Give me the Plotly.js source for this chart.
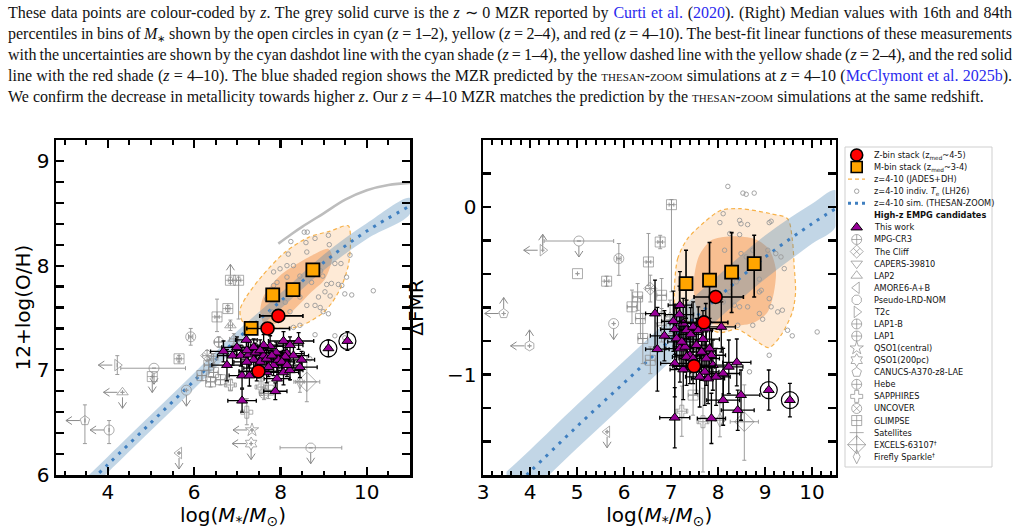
<!DOCTYPE html>
<html><head><meta charset="utf-8">
<script src="https://cdn.plot.ly/plotly-3.0.1.min.js"></script>
<style>
html,body{margin:0;padding:0;background:#fff;}
#wrap{position:relative;width:1025px;height:529px;overflow:hidden;background:#fff;}
#chart{position:absolute;left:0;top:0;width:1025px;height:529px;}
#cap{position:absolute;left:8px;top:2px;width:1004px;font-family:"Liberation Serif","Times New Roman",serif;font-size:16px;color:#111;z-index:5;pointer-events:none;}
#cap .ln{height:21px;line-height:21px;white-space:nowrap;text-align:left;overflow:visible;font-size:16px;}
#cap .lk{color:#2a2aee;}
#cap .it{font-style:italic;}
#cap .sc{font-variant:small-caps;}
#cap .sb{font-size:10px;line-height:0;position:relative;top:3px;}
</style></head>
<body>
<div id="wrap">
<div id="chart"></div>
<div id="cap">
<div class="ln"><span class="in">These data points are colour-coded by <span class="it">z</span>. The grey solid curve is the <span class="it">z</span> ∼ 0 MZR reported by <span class="lk">Curti et al.</span> (<span class="lk">2020</span>). (Right) Median values with 16th and 84th</span></div>
<div class="ln"><span class="in">percentiles in bins of <span class="it">M</span><span class="sb">∗</span> shown by the open circles in cyan (<span class="it">z</span> = 1–2), yellow (<span class="it">z</span> = 2–4), and red (<span class="it">z</span> = 4–10). The best-fit linear functions of these measurements</span></div>
<div class="ln"><span class="in">with the uncertainties are shown by the cyan dashdot line with the cyan shade (<span class="it">z</span> = 1–4), the yellow dashed line with the yellow shade (<span class="it">z</span> = 2–4), and the red solid</span></div>
<div class="ln"><span class="in">line with the red shade (<span class="it">z</span> = 4–10). The blue shaded region shows the MZR predicted by the <span class="sc">thesan-zoom</span> simulations at <span class="it">z</span> = 4–10 (<span class="lk">McClymont et al. 2025b</span>).</span></div>
<div class="ln last"><span class="in">We confirm the decrease in metallicity towards higher <span class="it">z</span>. Our <span class="it">z</span> = 4–10 MZR matches the prediction by the <span class="sc">thesan-zoom</span> simulations at the same redshift.</span></div>
</div>
</div>
<script>
// ================= LEFT PANEL : 12+log(O/H) =================
const zbinX_L = [7.95, 7.70, 7.49];
const zbinY_L = [7.52, 7.40, 6.99];
const zbinExLo_L = [0.43, 0.48, 0.45];
const zbinExHi_L = [0.57, 0.51, 0.45];
const zbinEy_L = [0.03, 0.03, 0.03];

const mbinX_L = [7.32, 7.82, 8.29, 8.75];
const mbinY_L = [7.40, 7.72, 7.77, 7.96];
const mbinEx_L = [0.10, 0.10, 0.10, 0.10];
const mbinEyLo_L = [0.03, 0.03, 0.03, 0.03];
const mbinEyHi_L = [0.03, 0.03, 0.03, 0.03];

const jadesOutX_L = [7.07, 7.22, 7.57, 8.11, 8.65, 9.15, 9.57, 9.62, 9.57, 9.42, 9.20, 8.96, 8.50, 8.20, 7.80, 7.40, 7.15, 7.07];
const jadesOutY_L = [7.59, 7.71, 7.90, 8.13, 8.27, 8.33, 8.38, 8.20, 8.00, 7.81, 7.65, 7.54, 7.43, 7.40, 7.41, 7.42, 7.45, 7.52];
const jadesInX_L = [7.53, 7.60, 7.80, 8.03, 8.65, 9.11, 9.20, 9.03, 8.72, 8.34, 7.95, 7.65];
const jadesInY_L = [7.55, 7.70, 7.82, 7.92, 8.08, 8.16, 8.08, 7.87, 7.75, 7.59, 7.46, 7.43];

const thesanX_L = [3.5, 4, 5, 6, 7, 8, 9, 10, 11];
const thesanMid_L = [5.90, 6.10, 6.50, 6.90, 7.30, 7.66, 8.03, 8.33, 8.57];
const thesanLo_L = [5.825, 6.025, 6.425, 6.825, 7.225, 7.585, 7.955, 8.255, 8.495];
const thesanHi_L = [5.975, 6.175, 6.575, 6.975, 7.375, 7.735, 8.105, 8.405, 8.645];

const curtiX = [7.95, 8.25, 8.5, 9.0, 9.5, 10.0, 10.5, 11.0];
const curtiY = [8.21, 8.30, 8.37, 8.50, 8.63, 8.72, 8.77, 8.79];

const teX_L = [8.24,8.55,8.62,8.59,8.80,9.11,9.13,9.61,9.26,9.40,9.53,8.93,8.98,8.72,9.07,9.18,9.34,9.42,9.03,8.88,9.15,9.49,9.65,8.92,8.99,9.11,8.80,10.15,8.61,8.45,8.30,8.15,7.99,7.92,7.84,7.80,7.68,8.45,8.30,8.15,8.22,8.45,8.30,8.80,8.68,9.26,9.49,8.11,8.18,7.84,8.61];
const teY_L = [8.23,8.32,8.32,8.22,8.26,8.29,8.20,8.10,8.02,8.02,7.89,7.95,7.90,7.84,7.82,7.83,7.82,7.81,7.75,7.70,7.71,7.73,7.72,7.60,7.56,7.54,7.62,7.76,7.62,7.70,7.81,7.89,7.97,7.84,7.81,7.56,7.68,7.90,8.00,8.00,7.56,7.43,7.41,7.34,7.11,7.33,7.31,7.65,8.11,7.94,8.13];

const triX_L = [7.21,6.68,6.89,7.08,7.26,7.42,7.61,7.76,8.07,8.42,7.90,8.15,8.30,8.49,6.76,7.11,7.28,7.38,7.53,7.68,7.84,7.95,8.07,8.22,8.45,7.11,7.88,9.11,9.55,7.61,7.38,7.22,7.68,7.92,8.11,8.22,7.45,6.99,7.80,8.03,8.15,7.22,7.53,7.72];
const triY_L = [7.29,7.18,7.14,7.14,7.15,7.17,7.14,7.23,7.28,7.28,7.17,7.16,7.14,7.10,7.05,6.95,6.95,7.10,7.08,7.11,7.05,7.10,6.98,7.00,7.03,6.71,6.80,7.21,7.28,7.24,7.22,7.08,6.98,6.92,7.13,7.24,7.02,7.22,7.14,7.08,7.05,7.19,7.19,7.03];
const triEx_L = [0.25,0.30,0.35,0.30,0.28,0.30,0.25,0.30,0.35,0.35,0.30,0.40,0.35,0.30,0.35,0.30,0.25,0.30,0.35,0.30,0.30,0.25,0.35,0.30,0.40,0.33,0.27,0.05,0.05,0.30,0.25,0.30,0.28,0.30,0.35,0.30,0.30,0.35,0.25,0.30,0.35,0.28,0.30,0.30];
const triEy_L = [0.08,0.10,0.09,0.10,0.12,0.09,0.08,0.10,0.09,0.08,0.10,0.09,0.12,0.08,0.15,0.12,0.10,0.09,0.11,0.09,0.10,0.08,0.12,0.09,0.10,0.11,0.08,0.08,0.09,0.10,0.08,0.13,0.10,0.14,0.09,0.08,0.12,0.10,0.09,0.10,0.11,0.09,0.10,0.09];

const ringX_L = [9.11, 9.55];
const ringY_L = [7.21, 7.28];

const candX_L = [6.84,7.03,6.78,6.53,5.92,5.65,4.22,5.07,5.03,4.34,5.82,3.47,4.03,5.65,7.34,7.32,8.70,7.22,6.84,6.18,6.38,6.61,6.34,8.61,8.45,6.84,6.30,6.45,7.72,6.45,6.57,6.92,7.55,7.62];
const candY_L = [7.86,7.86,7.59,7.51,7.32,7.11,7.05,7.02,6.94,6.79,6.81,6.52,6.43,6.21,6.43,6.30,6.26,6.60,6.86,6.95,6.89,6.91,7.05,6.89,6.89,7.43,7.14,7.11,6.81,6.98,7.27,7.30,6.84,6.78];
const candSym_L = ['square-cross-open','square-cross-open','square-cross-open','square-cross-open','circle-x-open','square-cross-open','triangle-right-open','circle-open','square-cross-open','triangle-up-open','circle-open','pentagon-open','circle-open','triangle-left-open','star-open','hexagram-open','octagon-open','cross-open','cross-open','square-cross-open','square-cross-open','square-cross-open','square-cross-open','diamond-cross-open','diamond-tall-open','triangle-up-open','diamond-x-open','triangle-down-open','square-cross-open','square-cross-open','circle-cross-open','triangle-up-open','cross-open','circle-cross-open'];
const candExLo_L = [0.05,0.05,0.05,0.05,0.05,0.05,0,0.77,0,0,0,0,0,0,0,0,0.71,0.05,0.10,0.10,0.10,0.10,0.10,0.30,0.10,0.05,0.10,0.10,0.10,0.10,0.10,0.10,0.10,0.10];
const candExHi_L = [0.05,0.05,0.05,0.05,0.05,0.05,0,0.73,0,0,0,0,0,0,0,0,0.72,0.05,0.10,0.10,0.10,0.10,0.10,0.30,0.10,0.05,0.10,0.10,0.10,0.10,0.10,0.10,0.10,0.10];
const candEyLo_L = [0.03,0.37,0.03,0.14,0.08,0.03,0.09,0,0,0,0,0.22,0.13,0,0,0,0,0.12,0.05,0.05,0.05,0.05,0.05,0.19,0.10,0.05,0.05,0.05,0.08,0.05,0.05,0.05,0.08,0.06];
const candEyHi_L = [0.03,0.03,0.03,0.17,0.08,0.03,0.09,0,0,0,0,0.15,0.09,0,0,0,0,0.13,0.05,0.05,0.05,0.05,0.05,0.25,0.10,0.05,0.05,0.05,0.08,0.05,0.05,0.05,0.08,0.06];
const candLim_L = ['U','','','','','','L','D','D','LD','D','L','L','D','L','LD','D','','','','','','','','','','','','','','','','',''];

// ================= RIGHT PANEL : ΔFMR =================
const zbinX_R = [7.95, 7.70, 7.49];
const zbinY_R = [-0.537, -0.689, -0.950];
const zbinExLo_R = [0.46, 0.48, 0.45];
const zbinExHi_R = [0.59, 0.51, 0.45];
const zbinEy_R = [0.02, 0.02, 0.02];

const mbinX_R = [7.32, 7.82, 8.29, 8.77];
const mbinY_R = [-0.457, -0.437, -0.389, -0.338];
const mbinEx_R = [0.10, 0.10, 0.10, 0.10];
const mbinEyLo_R = [0.207, 0.249, 0.241, 0.199];
const mbinEyHi_R = [0.199, 0.225, 0.236, 0.169];

const jadesOutX_R = [7.07, 7.14, 7.35, 7.71, 8.06, 8.48, 9.12, 9.48, 9.58, 9.62, 9.65, 9.58, 9.33, 9.08, 8.77, 8.41, 8.06, 7.71, 7.35, 7.10];
const jadesOutY_R = [-0.52, -0.31, -0.19, -0.09, -0.02, -0.01, -0.04, -0.07, -0.19, -0.35, -0.51, -0.63, -0.77, -0.84, -0.79, -0.73, -0.75, -0.72, -0.68, -0.62];
const jadesInX_R = [7.53, 7.49, 7.60, 7.85, 8.27, 8.77, 9.08, 9.23, 9.19, 9.05, 8.77, 8.34, 7.92, 7.71];
const jadesInY_R = [-0.59, -0.43, -0.29, -0.20, -0.175, -0.19, -0.25, -0.37, -0.51, -0.63, -0.69, -0.71, -0.70, -0.69];

const thesanX_R = [3.5, 4, 5, 6, 7, 8, 9, 10, 10.5];
const thesanMid_R = [-1.71, -1.58, -1.31, -1.05, -0.79, -0.54, -0.30, -0.10, -0.01];
const thesanLo_R = [-1.84, -1.71, -1.44, -1.18, -0.92, -0.67, -0.43, -0.22, -0.12];
const thesanHi_R = [-1.58, -1.45, -1.18, -0.92, -0.66, -0.41, -0.17, 0.02, 0.10];

const teX_R = [8.21,8.53,8.60,8.77,8.11,8.04,8.46,8.49,8.63,9.09,9.13,8.25,8.46,8.14,8.49,8.60,8.74,9.06,9.23,9.34,9.41,8.88,8.39,8.25,8.11,8.46,8.63,8.88,8.92,9.09,9.27,9.37,8.88,8.95,8.74,8.42,9.48,9.58,10.11,9.09,8.67,9.13,7.96,8.35];
const teY_R = [0.123,0.083,0.076,0.083,-0.04,-0.093,-0.08,-0.10,-0.105,-0.093,-0.085,-0.159,-0.165,-0.258,-0.278,-0.298,-0.258,-0.258,-0.278,-0.298,-0.368,-0.431,-0.447,-0.507,-0.567,-0.596,-0.596,-0.507,-0.497,-0.547,-0.626,-0.616,-0.636,-0.67,-0.706,-0.706,-0.736,-0.769,-0.746,-0.885,-0.984,-0.596,-0.507,-0.586];

const triX_R = [6.66,6.71,6.86,7.05,7.08,7.19,7.18,7.26,7.33,7.42,7.47,7.58,7.68,7.74,7.82,7.86,7.19,7.30,7.40,7.54,7.08,7.26,7.54,7.72,7.61,7.79,7.96,8.11,8.23,8.40,8.07,9.08,9.53,8.11,8.49,8.42,7.86,7.08,7.33,7.47,7.12,7.23,7.65,7.75,7.89];
const triY_R = [-0.636,-0.849,-0.769,-0.682,-0.730,-0.586,-0.642,-0.696,-0.736,-0.761,-0.716,-0.736,-0.789,-0.726,-0.845,-0.885,-0.845,-0.835,-0.885,-0.825,-0.934,-0.970,-0.954,-0.984,-1.014,-1.024,-1.014,-0.994,-0.954,-0.928,-0.716,-1.093,-1.153,-1.153,-1.123,-1.213,-1.262,-1.258,-0.895,-0.905,-0.785,-0.805,-0.865,-0.905,-0.944];
const triEx_R = [0.20,0.25,0.30,0.25,0.30,0.25,0.30,0.28,0.30,0.25,0.30,0.30,0.35,0.30,0.28,0.30,0.30,0.25,0.30,0.30,0.30,0.28,0.30,0.30,0.30,0.35,0.30,0.35,0.30,0.30,0.30,0.05,0.05,0.35,0.40,0.35,0.30,0.32,0.30,0.30,0.25,0.30,0.30,0.28,0.30];
const triEy_R = [0.20,0.25,0.15,0.18,0.15,0.20,0.17,0.15,0.18,0.16,0.15,0.14,0.17,0.15,0.18,0.15,0.20,0.15,0.17,0.16,0.20,0.18,0.16,0.20,0.18,0.15,0.17,0.15,0.16,0.14,0.15,0.12,0.10,0.15,0.15,0.12,0.15,0.18,0.17,0.15,0.18,0.16,0.17,0.16,0.15];

const ringX_R = [9.08, 9.53];
const ringY_R = [-1.093, -1.153];

const candX_R = [7.01,6.77,6.52,5.89,5.63,5.01,5.04,4.27,3.44,3.99,5.78,5.64,6.29,6.17,6.35,6.40,6.56,6.80,6.56,8.56,7.68,7.23,7.47,8.04,6.80,6.98];
const candY_R = [0.014,-0.209,-0.328,-0.308,-0.443,-0.398,-0.203,-0.258,-0.636,-0.829,-0.696,-1.342,-0.537,-0.596,-0.666,-0.785,-0.915,-0.527,-0.487,-1.282,-1.282,-1.219,-1.123,-1.272,-0.706,-0.656];
const candSym_R = ['square-cross-open','square-cross-open','square-cross-open','circle-x-open','square-cross-open','square-open','circle-open','triangle-right-open','pentagon-open','hexagon-open','circle-open','triangle-left-open','square-cross-open','square-cross-open','square-cross-open','square-cross-open','square-cross-open','square-cross-open','diamond-x-open','diamond-cross-open','cross-open','cross-open','square-cross-open','diamond-tall-open','triangle-down-open','triangle-up-open'];
const candExLo_R = [0.05,0.05,0.05,0.05,0.05,0,0.74,0,0,0,0,0,0.10,0.10,0.10,0.10,0.10,0.10,0.10,0.30,0.10,0.10,0.10,0.10,0.10,0.10];
const candExHi_R = [0.05,0.05,0.05,0.05,0.05,0,0.74,0,0,0,0,0,0.10,0.10,0.10,0.10,0.10,0.10,0.10,0.30,0.10,0.10,0.10,0.10,0.10,0.10];
const candEyLo_R = [0.52,0.04,0.14,0.10,0.03,0,0,0,0,0,0,0,0.08,0.10,0.12,0.15,0.08,0.10,0.08,0.23,0.30,0.15,0.12,0.10,0.10,0.10];
const candEyHi_R = [0.03,0.04,0.17,0.09,0.03,0,0,0.08,0,0,0,0,0.08,0.10,0.12,0.15,0.08,0.10,0.08,0.22,0.20,0.15,0.12,0.10,0.10,0.10];
const candLim_R = ['','','','','','','D','LU','LU','LU','D','D','','','','','','','','','','','','','',''];

// ================= LEGEND =================
const legLabels = ['Z-bin stack (z<sub>med</sub>~4-5)','M-bin stack (z<sub>med</sub>~3-4)','z=4-10 (JADES+DH)','z=4-10 indiv. <i>T</i><sub>e</sub> (LH26)','z=4-10 sim. (THESAN-ZOOM)','<b>High-z EMPG candidates</b>','This work','MPG-CR3','The Cliff','CAPERS-39810','LAP2','AMORE6-A+B','Pseudo-LRD-NOM','T2c','LAP1-B','LAP1','QSO1(central)','QSO1(200pc)','CANUCS-A370-z8-LAE','Hebe','SAPPHIRES','UNCOVER','GLIMPSE','Satellites','EXCELS-63107<sup>†</sup>','Firefly Sparkle<sup>†</sup>'];
const legCandSymbols = ['circle-cross-open','diamond-x-open','triangle-down-open','triangle-up-open','triangle-left-open','octagon-open','triangle-right-open','circle-cross-open','circle-cross-open','star-open','hexagram-open','pentagon-open','circle-cross-open','cross-open','circle-x-open','square-cross-open','cross-thin-open','diamond-cross-open','diamond-tall-open'];

// ---------- caption: explicit sizes + justification ----------
(function(){
  document.querySelectorAll('#cap span').forEach(el => { el.style.fontSize = getComputedStyle(el).fontSize; });
  document.querySelectorAll('#cap .ln').forEach(el => {
    if(el.classList.contains('last')) return;
    const inner = el.querySelector('.in');
    const w = inner.getBoundingClientRect().width;
    const n = (inner.textContent.match(/ /g) || []).length;
    if(n > 0) el.style.wordSpacing = ((1004 - w) / n) + 'px';
  });
})();

// ---------- styles ----------
const PURPLE = '#990099';
const GREY = '#8a8a8a';
const FONT = 'DejaVu Sans';

function errSym(a, col, th){ return {type:'data', array:a, color:col, thickness:th, width:2, visible:true}; }
function errAsym(hi, lo, col, th){ return {type:'data', symmetric:false, array:hi, arrayminus:lo, color:col, thickness:th, width:2, visible:true}; }

function panelTraces(P){
  const xa = P.xa, ya = P.ya, T = [];
  T.push({type:'scatter', mode:'lines', xaxis:xa, yaxis:ya, x:P.outX.concat([P.outX[0]]), y:P.outY.concat([P.outY[0]]),
    fill:'toself', fillcolor:'rgba(252,170,90,0.25)', line:{color:'#f7b24a', width:1.2, dash:'4px,3px', shape:'spline', smoothing:0.8}, hoverinfo:'skip'});
  T.push({type:'scatter', mode:'lines', xaxis:xa, yaxis:ya, x:P.inX.concat([P.inX[0]]), y:P.inY.concat([P.inY[0]]),
    fill:'toself', fillcolor:'rgba(240,130,50,0.42)', line:{color:'rgba(0,0,0,0)', width:0, shape:'spline', smoothing:0.8}, hoverinfo:'skip'});
  T.push({type:'scatter', mode:'lines', xaxis:xa, yaxis:ya, x:P.bX.concat(P.bX.slice().reverse()), y:P.bHi.concat(P.bLo.slice().reverse()),
    fill:'toself', fillcolor:'rgba(70,130,180,0.33)', line:{width:0, color:'rgba(0,0,0,0)', shape:'spline'}, hoverinfo:'skip'});
  T.push({type:'scatter', mode:'lines', xaxis:xa, yaxis:ya, x:P.bX, y:P.bMid, line:{color:'#3f7fc0', width:3, dash:'3px,6px', shape:'spline'}, hoverinfo:'skip'});
  if(P.curX){
    T.push({type:'scatter', mode:'lines', xaxis:xa, yaxis:ya, x:P.curX, y:P.curY, line:{color:'#bdbdbd', width:2.6, shape:'spline'}, hoverinfo:'skip'});
  }
  T.push({type:'scatter', mode:'markers', xaxis:xa, yaxis:ya, x:P.teX, y:P.teY, marker:{symbol:'circle-open', size:4.5, color:'#9a9a9a', line:{width:0.9}}, hoverinfo:'skip'});
  T.push(arrowTrace(P));
  T.push({type:'scatter', mode:'markers', xaxis:xa, yaxis:ya, x:P.cX, y:P.cY,
    marker:{symbol:P.cSym, size:P.cSym.map(s => s==='diamond-cross-open' ? 15 : 10), color:GREY, line:{width:1}},
    error_x:errAsym(P.cExHi, P.cExLo, '#9c9c9c', 1), error_y:errAsym(P.cEyHi, P.cEyLo, '#9c9c9c', 1), hoverinfo:'skip'});
  T.push({type:'scatter', mode:'markers', xaxis:xa, yaxis:ya, x:P.tX, y:P.tY,
    marker:{symbol:'triangle-up', size:9.5, color:PURPLE, line:{color:'black', width:1}},
    error_x:errSym(P.tEx, 'black', 1.3), error_y:errSym(P.tEy, 'black', 1.3), hoverinfo:'skip'});
  T.push({type:'scatter', mode:'markers', xaxis:xa, yaxis:ya, x:P.rX, y:P.rY,
    marker:{symbol:'circle-open', size:17, color:'black', line:{width:1.2}}, hoverinfo:'skip'});
  T.push({type:'scatter', mode:'markers', xaxis:xa, yaxis:ya, x:P.mX, y:P.mY,
    marker:{symbol:'square', size:13, color:'#ffa500', line:{color:'black', width:1.8}},
    error_x:errSym(P.mEx, 'black', 1.6), error_y:errAsym(P.mEyHi, P.mEyLo, 'black', 1.6), hoverinfo:'skip'});
  T.push({type:'scatter', mode:'markers', xaxis:xa, yaxis:ya, x:P.zX, y:P.zY,
    marker:{symbol:'circle', size:13, color:'#ff0000', line:{color:'black', width:1.6}},
    error_x:errAsym(P.zExHi, P.zExLo, 'black', 1.6), error_y:errSym(P.zEy, 'black', 1.6), hoverinfo:'skip'});
  return T;
}

function arrowTrace(P){
  const xs = [], ys = [];
  const ux = (P.xr[1] - P.xr[0]) / P.wpx, uy = (P.yr[1] - P.yr[0]) / P.hpx;
  const START = 5, HEAD = 6, HALF = 4;
  P.cLim.forEach((lim, i) => {
    const x = P.cX[i], y = P.cY[i];
    for(const d of lim){
      let dx = 0, dy = 0, len = 16;
      if(d === 'L'){ dx = -1; len = 19; } else if(d === 'D'){ dy = -1; } else if(d === 'U'){ dy = 1; }
      const tx = x + dx*len*ux, ty = y + dy*len*uy;
      xs.push(x + dx*START*ux, tx, null); ys.push(y + dy*START*uy, ty, null);
      const bx = tx - dx*HEAD*ux, by = ty - dy*HEAD*uy;
      xs.push(bx - dy*HALF*ux, tx, bx + dy*HALF*ux, null);
      ys.push(by + dx*HALF*uy, ty, by - dx*HALF*uy, null);
    }
  });
  return {type:'scatter', mode:'lines', xaxis:P.xa, yaxis:P.ya, x:xs, y:ys, line:{color:GREY, width:1}, connectgaps:false, hoverinfo:'skip'};
}

const XR_L = [2.8, 11], YR_L = [6, 9.2], XR_R = [3, 10.5], YR_R = [-1.6, 0.4];
const PL = {xa:'x', ya:'y', xr:XR_L, yr:YR_L, wpx:354, hpx:335, outX:jadesOutX_L, outY:jadesOutY_L, inX:jadesInX_L, inY:jadesInY_L,
  bX:thesanX_L, bMid:thesanMid_L, bLo:thesanLo_L, bHi:thesanHi_L, curX:curtiX, curY:curtiY,
  teX:teX_L, teY:teY_L, cX:candX_L, cY:candY_L, cSym:candSym_L, cExLo:candExLo_L, cExHi:candExHi_L, cEyLo:candEyLo_L, cEyHi:candEyHi_L, cLim:candLim_L,
  tX:triX_L, tY:triY_L, tEx:triEx_L, tEy:triEy_L, rX:ringX_L, rY:ringY_L,
  mX:mbinX_L, mY:mbinY_L, mEx:mbinEx_L, mEyLo:mbinEyLo_L, mEyHi:mbinEyHi_L,
  zX:zbinX_L, zY:zbinY_L, zExLo:zbinExLo_L, zExHi:zbinExHi_L, zEy:zbinEy_L};
const PR = {xa:'x2', ya:'y2', xr:XR_R, yr:YR_R, wpx:352.5, hpx:335, outX:jadesOutX_R, outY:jadesOutY_R, inX:jadesInX_R, inY:jadesInY_R,
  bX:thesanX_R, bMid:thesanMid_R, bLo:thesanLo_R, bHi:thesanHi_R, curX:null,
  teX:teX_R, teY:teY_R, cX:candX_R, cY:candY_R, cSym:candSym_R, cExLo:candExLo_R, cExHi:candExHi_R, cEyLo:candEyLo_R, cEyHi:candEyHi_R, cLim:candLim_R,
  tX:triX_R, tY:triY_R, tEx:triEx_R, tEy:triEy_R, rX:ringX_R, rY:ringY_R,
  mX:mbinX_R, mY:mbinY_R, mEx:mbinEx_R, mEyLo:mbinEyLo_R, mEyHi:mbinEyHi_R,
  zX:zbinX_R, zY:zbinY_R, zExLo:zbinExLo_R, zExHi:zbinExHi_R, zEy:zbinEy_R};

let traces = panelTraces(PL).concat(panelTraces(PR));

// ---------- custom legend (hidden axes x3/y3, units = pixels inside the legend box) ----------
const ROW0 = 8, ROWH = 12.07, MX = 11.7, TX = 26.5;
const rowY = legLabels.map((_, i) => ROW0 + ROWH * i);
traces.push({type:'scatter', mode:'markers', xaxis:'x3', yaxis:'y3', x:[MX], y:[rowY[0]], marker:{symbol:'circle', size:12, color:'#ff0000', line:{color:'black', width:1.6}}, hoverinfo:'skip'});
traces.push({type:'scatter', mode:'markers', xaxis:'x3', yaxis:'y3', x:[MX], y:[rowY[1]], marker:{symbol:'square', size:11, color:'#ffa500', line:{color:'black', width:1.6}}, hoverinfo:'skip'});
traces.push({type:'scatter', mode:'lines', xaxis:'x3', yaxis:'y3', x:[3, 20], y:[rowY[2], rowY[2]], line:{color:'#f7b24a', width:1.3, dash:'4px,3px'}, hoverinfo:'skip'});
traces.push({type:'scatter', mode:'markers', xaxis:'x3', yaxis:'y3', x:[MX], y:[rowY[3]], marker:{symbol:'circle-open', size:4.5, color:'#9a9a9a', line:{width:0.9}}, hoverinfo:'skip'});
traces.push({type:'scatter', mode:'lines', xaxis:'x3', yaxis:'y3', x:[3, 20], y:[rowY[4], rowY[4]], line:{color:'#3f7fc0', width:3, dash:'3px,4px'}, hoverinfo:'skip'});
traces.push({type:'scatter', mode:'markers', xaxis:'x3', yaxis:'y3', x:[MX], y:[rowY[6]], marker:{symbol:'triangle-up', size:10, color:PURPLE, line:{color:'black', width:1}}, hoverinfo:'skip'});
traces.push({type:'scatter', mode:'markers', xaxis:'x3', yaxis:'y3', x:legCandSymbols.map(() => MX), y:rowY.slice(7),
  marker:{symbol:legCandSymbols, size:legCandSymbols.map(s => s==='diamond-cross-open' ? 14 : 10), color:GREY, line:{width:1}}, hoverinfo:'skip'});

const legAnn = legLabels.map((t, i) => ({xref:'x3', yref:'y3', x:TX, y:rowY[i], text:t, showarrow:false, xanchor:'left', yanchor:'middle', font:{family:FONT, size:8.2, color:'#111'}}));

// ---------- axes ----------
const tickFont = {family:FONT, size:20, color:'black'};
const axBase = {showline:true, linecolor:'black', linewidth:2.5, mirror:'allticks', ticks:'inside', tickcolor:'black', tickwidth:2.2, ticklen:8,
  showgrid:false, zeroline:false, tickfont:tickFont, fixedrange:true};
const XT = 'log(<i>M</i><sub>*</sub>/<i>M</i><sub>⊙</sub>)';
const yDom = [54/529, 389/529];

const layout = {
  width:1025, height:529, margin:{l:0, r:0, t:0, b:0}, paper_bgcolor:'white', plot_bgcolor:'white', showlegend:false,
  font:{family:FONT, color:'black'},
  xaxis:Object.assign({}, axBase, {domain:[56/1025, 410/1025], range:XR_L, tick0:4, dtick:2, anchor:'y', ticklabelstandoff:-3,
    minor:{ticks:'inside', tick0:3, dtick:0.5, ticklen:4.5, tickwidth:2, tickcolor:'black', showgrid:false},
    title:{text:XT, font:{family:FONT, size:20}, standoff:11}}),
  yaxis:Object.assign({}, axBase, {domain:yDom, range:YR_L, tick0:6, dtick:1, anchor:'x',
    minor:{ticks:'inside', tick0:6, dtick:0.2, ticklen:8, tickwidth:2.2, tickcolor:'black', showgrid:false},
    title:{text:'12+log(O/H)', font:{family:FONT, size:20}, standoff:1}}),
  xaxis2:Object.assign({}, axBase, {domain:[483/1025, 835.5/1025], range:XR_R, tick0:3, dtick:1, anchor:'y2', ticklabelstandoff:-3,
    minor:{ticks:'inside', tick0:3, dtick:0.2, ticklen:4.5, tickwidth:2, tickcolor:'black', showgrid:false},
    title:{text:XT, font:{family:FONT, size:20}, standoff:11}}),
  yaxis2:Object.assign({}, axBase, {domain:yDom, range:YR_R, tick0:0, dtick:1, anchor:'x2',
    minor:{ticks:'inside', tick0:0, dtick:0.2, ticklen:8, tickwidth:2.2, tickcolor:'black', showgrid:false},
    title:{text:'ΔFMR', font:{family:FONT, size:20}, standoff:18}}),
  xaxis3:{domain:[845/1025, 992/1025], range:[0, 147], visible:false, fixedrange:true, anchor:'y3'},
  yaxis3:{domain:[62/529, 382/529], range:[320, 0], visible:false, fixedrange:true, anchor:'x3'},
  shapes:[{type:'rect', xref:'paper', yref:'paper', x0:845/1025, x1:992/1025, y0:62/529, y1:382/529, line:{color:'#cfcfcf', width:1}, fillcolor:'white', layer:'below'}],
  annotations:legAnn
};

Plotly.newPlot('chart', traces, layout, {staticPlot:true, displayModeBar:false});
</script>
</body></html>
